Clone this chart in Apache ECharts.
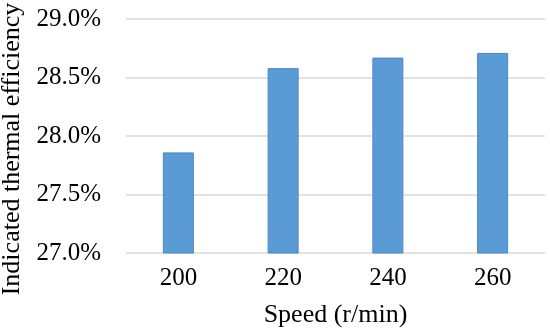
<!DOCTYPE html>
<html>
<head>
<meta charset="utf-8">
<script src="https://cdn.jsdelivr.net/npm/echarts@6/dist/echarts.min.js"></script>
<style>
html, body { margin: 0; padding: 0; background: #fff; }
#chart { width: 550px; height: 333px; }
</style>
</head>
<body>
<div id="chart"></div>
<script>
// data
const speeds = ['200', '220', '240', '260'];
const efficiency = [27.86, 28.58, 28.67, 28.71];
const yMin = 27.0;
const yMax = 29.0;
const yStep = 0.5;

const font = '"Liberation Serif", "Times New Roman", serif';

const myChart = echarts.init(document.getElementById('chart'));
const option = {
	animation: false,
	grid: { left: 126, right: 5, top: 19, bottom: 80, outerBoundsMode: 'none' },
	xAxis: {
		type: 'category',
		data: speeds,
		name: 'Speed (r/min)',
		nameLocation: 'middle',
		nameGap: 49,
		nameTextStyle: { fontFamily: font, fontSize: 26, color: '#000' },
		axisLine: { show: false },
		axisTick: { show: false },
		axisLabel: { fontFamily: font, fontSize: 25, color: '#000', margin: 13 }
	},
	yAxis: {
		type: 'value',
		min: yMin,
		max: yMax,
		interval: yStep,
		name: 'Indicated thermal efficiency',
		nameLocation: 'middle',
		nameGap: 94,
		nameTextStyle: { fontFamily: font, fontSize: 26, color: '#000', padding: [0, 26, 0, 0] },
		axisLine: { show: false },
		axisTick: { show: false },
		axisLabel: {
			fontFamily: font, fontSize: 25, color: '#000', margin: 25,
			formatter: v => v.toFixed(1) + '%'
		},
		splitLine: { lineStyle: { color: '#d9d9d9', width: 1.5 } }
	},
	series: [{
		type: 'bar',
		data: efficiency,
		barWidth: 31,
		itemStyle: { color: '#5b9bd5', borderColor: '#4a88c6', borderWidth: 1 }
	}]
};
myChart.setOption(option);
</script>
</body>
</html>
